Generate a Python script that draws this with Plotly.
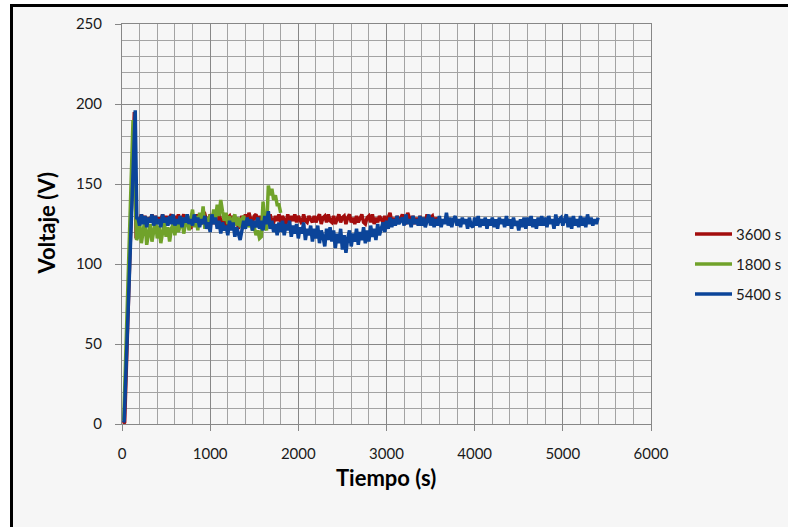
import numpy as np
import plotly.graph_objects as go

# ---- data -------------------------------------------------------------
# Start-up transient (time in s, voltage in V) for each run
red_start_t = [15, 30, 140, 160]
red_start_v = [0, 1, 195, 116]
green_start_t = [15, 20, 125, 150, 165]
green_start_v = [2, 3, 190, 130, 115]
blue_start_t = [15, 25, 150, 168]
blue_start_v = [1, 2, 196, 128]

# Steady readings, logged every SAMPLE_PERIOD seconds from STEADY_START
SAMPLE_PERIOD = 20
STEADY_START = 180

red_steady = [
    129, 126, 131, 127, 130, 125, 129, 127, 131, 126,
    130, 126, 129, 127, 131, 125, 130, 126, 129, 131,
    126, 130, 127, 131, 125, 129, 131, 126, 129, 123,
    122, 128, 130, 126, 131, 127, 125, 130, 131, 127,
    126, 131, 128, 125, 130, 126, 131, 127, 124, 128,
    123, 129, 130, 126, 130, 125, 129, 122, 127, 130,
    127, 131, 126, 132, 128, 126, 130, 131, 125, 130,
    127, 131, 126, 130, 125, 131, 127, 126, 130, 127,
    131, 126, 130, 127, 125, 131, 126, 130, 127, 131,
    126, 130, 127, 125, 131, 127, 126, 130, 128, 126,
    130, 126, 129, 131, 125, 129, 130, 126, 131, 127,
    126, 130, 125, 129, 131, 126, 129, 130, 125, 129,
    131, 126, 129, 125, 130, 126, 129, 131, 126, 125,
    129, 130, 126, 131, 125, 129, 126, 130, 128, 126,
    130, 125, 129, 132, 126, 129, 125, 130, 126, 129,
    131, 126, 125, 132, 129, 126, 130, 125, 129, 126,
    130, 126, 129, 125, 131, 126, 129, 130, 125, 129,
    126, 129,
]

green_steady = [
    117, 126, 113, 123, 128, 112, 120, 125, 114, 122,
    127, 116, 124, 113, 121, 126, 117, 123, 114, 122,
    125, 118, 127, 120, 124, 129, 119, 126, 131, 121,
    128, 134, 123, 130, 121, 132, 125, 136, 122, 129,
    124, 131, 126, 134, 128, 137, 130, 140, 133, 127,
    132, 125, 130, 122, 128, 131, 124, 129, 123, 128,
    130, 125, 128, 123, 126, 121, 123, 118, 121, 116,
    117, 139, 124, 121, 149, 143, 147, 140, 143, 137,
    137, 132,
]

blue_steady = [
    129, 124, 131, 125, 130, 123, 129, 126, 131, 124,
    130, 125, 128, 123, 131, 126, 129, 124, 130, 125,
    131, 124, 128, 125, 130, 123, 129, 126, 131, 125,
    128, 124, 131, 126, 129, 123, 128, 125, 130, 122,
    126, 120, 131, 125, 129, 122, 127, 119, 126, 121,
    124, 118, 127, 121, 126, 117, 123, 119, 115, 121,
    127, 122, 129, 124, 128, 121, 127, 123, 129, 122,
    127, 121, 130, 125, 133, 122, 127, 120, 125, 118,
    126, 120, 127, 118, 125, 121, 127, 117, 124, 119,
    125, 116, 123, 119, 126, 115, 122, 118, 124, 114,
    122, 116, 124, 113, 121, 117, 111, 122, 115, 123,
    114, 121, 110, 119, 113, 122, 109, 118, 107, 116,
    121, 111, 119, 114, 122, 112, 120, 115, 123, 113,
    121, 114, 124, 117, 122, 115, 125, 118, 123, 126,
    120, 127, 122, 129, 123, 128, 124, 130, 125, 127,
    129, 124, 131, 125, 128, 123, 130, 125, 128, 124,
    130, 124, 129, 123, 128, 131, 124, 129, 123, 128,
    124, 130, 123, 128, 125, 132, 124, 129, 123, 128,
    130, 124, 128, 123, 129, 125, 128, 122, 129, 124,
    123, 129, 124, 130, 123, 128, 124, 129, 122, 128,
    124, 129, 123, 128, 122, 129, 125, 128, 123, 130,
    124, 128, 122, 129, 124, 127, 121, 128, 123, 129,
    122, 129, 124, 130, 123, 128, 122, 129, 124, 130,
    124, 129, 123, 130, 125, 128, 122, 131, 124, 128,
    129, 124, 128, 131, 123, 129, 122, 130, 124, 128,
    123, 130, 124, 129, 123, 131, 125, 129, 124, 128,
    125, 129,
]

series = [
    ("3600 s", red_start_t, red_start_v, red_steady, "#A30D0D"),
    ("1800 s", green_start_t, green_start_v, green_steady, "#70A22A"),
    ("5400 s", blue_start_t, blue_start_v, blue_steady, "#0B4499"),
]

x_ticks = [0, 1000, 2000, 3000, 4000, 5000, 6000]
y_ticks = [0, 50, 100, 150, 200, 250]

# ---- figure -----------------------------------------------------------
W, H = 788, 527
ML, MR, MT, MB = 122, 137, 24, 103
PW, PH = W - ML - MR, H - MT - MB


def px_x(p):
    return (p - ML) / PW


def px_y(p):
    return (H - MB - p) / PH


FONT = "Lato, Open Sans, sans-serif"
MAJOR = "#878787"
MINOR = "#A3A3A3"
BG = "#F6F6F6"

fig = go.Figure()
shapes = [dict(
    type="rect", xref="paper", yref="paper", layer="below",
    x0=px_x(11.5), x1=px_x(805), y0=px_y(545), y1=px_y(5.5),
    line=dict(color="black", width=3), fillcolor=BG,
)]
annotations = []

for i, (name, st, sv, steady, color) in enumerate(series):
    t_steady = STEADY_START + SAMPLE_PERIOD * np.arange(len(steady))
    t = list(st) + list(t_steady)
    v = list(sv) + list(steady)
    fig.add_trace(go.Scatter(
        x=t, y=v, mode="lines", name=name, showlegend=False,
        line=dict(color=color, width=3.5),
    ))
    # legend entry: swatch line plus label
    ly = px_y(234 + 30 * i)
    shapes.append(dict(
        type="line", xref="paper", yref="paper",
        x0=px_x(695), x1=px_x(732), y0=ly, y1=ly,
        line=dict(color=color, width=3.5),
    ))
    annotations.append(dict(
        text=name, xref="paper", yref="paper", x=px_x(734), y=ly,
        xanchor="left", yanchor="middle", showarrow=False,
        font=dict(family=FONT, size=15, color="#1a1a1a"),
    ))

fig.update_xaxes(
    range=[0, 6000], tickvals=x_ticks, showgrid=True, gridcolor=MAJOR, gridwidth=1,
    minor=dict(dtick=200, showgrid=True, gridcolor=MINOR, gridwidth=1, ticks=""),
    showline=True, linecolor=MAJOR, linewidth=1, mirror=True,
    ticks="outside", ticklen=6, tickcolor=MAJOR, ticklabelstandoff=10,
    tickfont=dict(family=FONT, size=15, color="#1a1a1a"), zeroline=False,
)
fig.update_yaxes(
    range=[0, 250], tickvals=y_ticks, showgrid=True, gridcolor=MAJOR, gridwidth=1,
    minor=dict(dtick=10, showgrid=True, gridcolor=MINOR, gridwidth=1, ticks=""),
    showline=True, linecolor=MAJOR, linewidth=1, mirror=True,
    ticks="outside", ticklen=6, tickcolor=MAJOR, ticklabelstandoff=10,
    tickfont=dict(family=FONT, size=15, color="#1a1a1a"), zeroline=False,
)

annotations += [
    dict(text="<b>Tiempo (s)</b>", xref="paper", yref="paper",
         x=px_x(386), y=px_y(493), showarrow=False,
         font=dict(family=FONT, size=22, color="black")),
    dict(text="<b>Voltaje (V)</b>", xref="paper", yref="paper",
         x=px_x(30), y=px_y(224), showarrow=False, textangle=-90,
         font=dict(family=FONT, size=22, color="black")),
]

fig.update_layout(
    width=W, height=H,
    margin=dict(l=ML, r=MR, t=MT, b=MB),
    paper_bgcolor="white", plot_bgcolor=BG,
    showlegend=False,
    shapes=shapes,
    annotations=annotations,
)

fig.write_html("out.html")
